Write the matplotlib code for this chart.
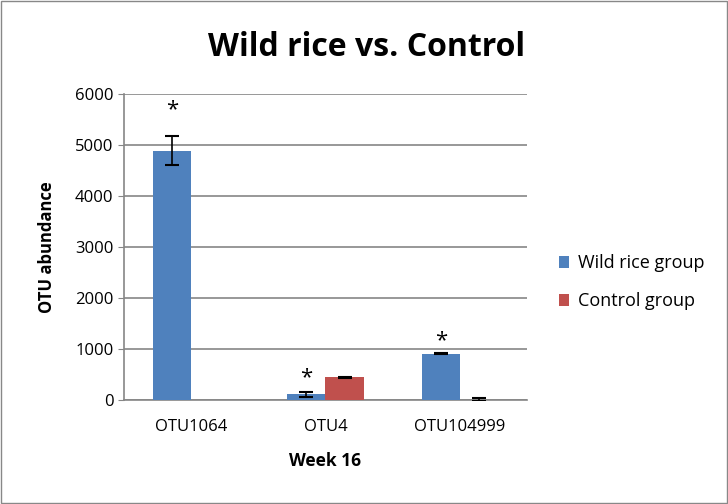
import numpy as np
import matplotlib.pyplot as plt
from matplotlib.patches import Rectangle

# data
categories = ['OTU1064', 'OTU4', 'OTU104999']
wild = [4890, 110, 910]
wild_err = [280, 50, 8]
control = [0, 445, 10]
control_err = [0, 8, 25]
star_y = [5700, 430, 1160]

plt.rcParams['font.family'] = ['Open Sans', 'DejaVu Sans']

blue = '#4f81bd'
red = '#c0504d'
grid_c = '#868686'

fig = plt.figure(figsize=(7.28, 5.04), dpi=100)
ax = fig.add_axes([0.1703, 0.2063, 0.5536, 0.6072])

x = np.arange(len(categories))
w = 0.285
ax.bar(x - w / 2, wild, w, color=blue, label='Wild rice group', zorder=3)
ax.bar(x + w / 2, control, w, color=red, label='Control group', zorder=3)
ax.errorbar(x - w / 2, wild, yerr=wild_err, fmt='none', ecolor='black',
            elinewidth=1.2, capsize=5, capthick=1.5, zorder=4)
# only draw control error bars where there is a bar
has = np.array(control_err) > 0
ax.errorbar((x + w / 2)[has], np.array(control)[has], yerr=np.array(control_err)[has],
            fmt='none', ecolor='black', elinewidth=1.2, capsize=5, capthick=1.5, zorder=4)
for xi, yi in zip(x - w / 2, star_y):
    ax.text(xi, yi, '*', ha='center', va='center', fontsize=16)

ax.set_xlim(-0.5, 2.5)
ax.set_ylim(0, 6000)
ax.set_yticks(range(0, 6001, 1000))
ax.set_xticks(x)
ax.set_xticklabels(categories, fontsize=12)
ax.tick_params(axis='y', labelsize=12, length=4, color=grid_c, direction='out')
ax.tick_params(axis='x', length=0, pad=14)
ax.yaxis.grid(True, color=grid_c, linewidth=1.2, zorder=0)
for s in ['top', 'right']:
    ax.spines[s].set_visible(False)
for s in ['left', 'bottom']:
    ax.spines[s].set_color(grid_c)
    ax.spines[s].set_linewidth(1.2)

ax.set_xlabel('Week 16', fontsize=12.5, fontweight='bold', labelpad=12)
ax.set_ylabel('OTU abundance', fontsize=12, fontweight='bold', labelpad=14)
fig.text(0.503, 0.905, 'Wild rice vs. Control', ha='center', va='center',
         fontsize=23, fontweight='bold')

fig.legend(loc='center left', bbox_to_anchor=(0.745, 0.44), frameon=False,
           fontsize=13, handlelength=0.6, handleheight=0.6,
           labelspacing=1.1, handletextpad=0.5)

fig.patches.append(Rectangle((0.002, 0.002), 0.996, 0.996, transform=fig.transFigure,
                             fill=False, edgecolor='#888888', linewidth=1))

fig.savefig('out.png', dpi=100)
